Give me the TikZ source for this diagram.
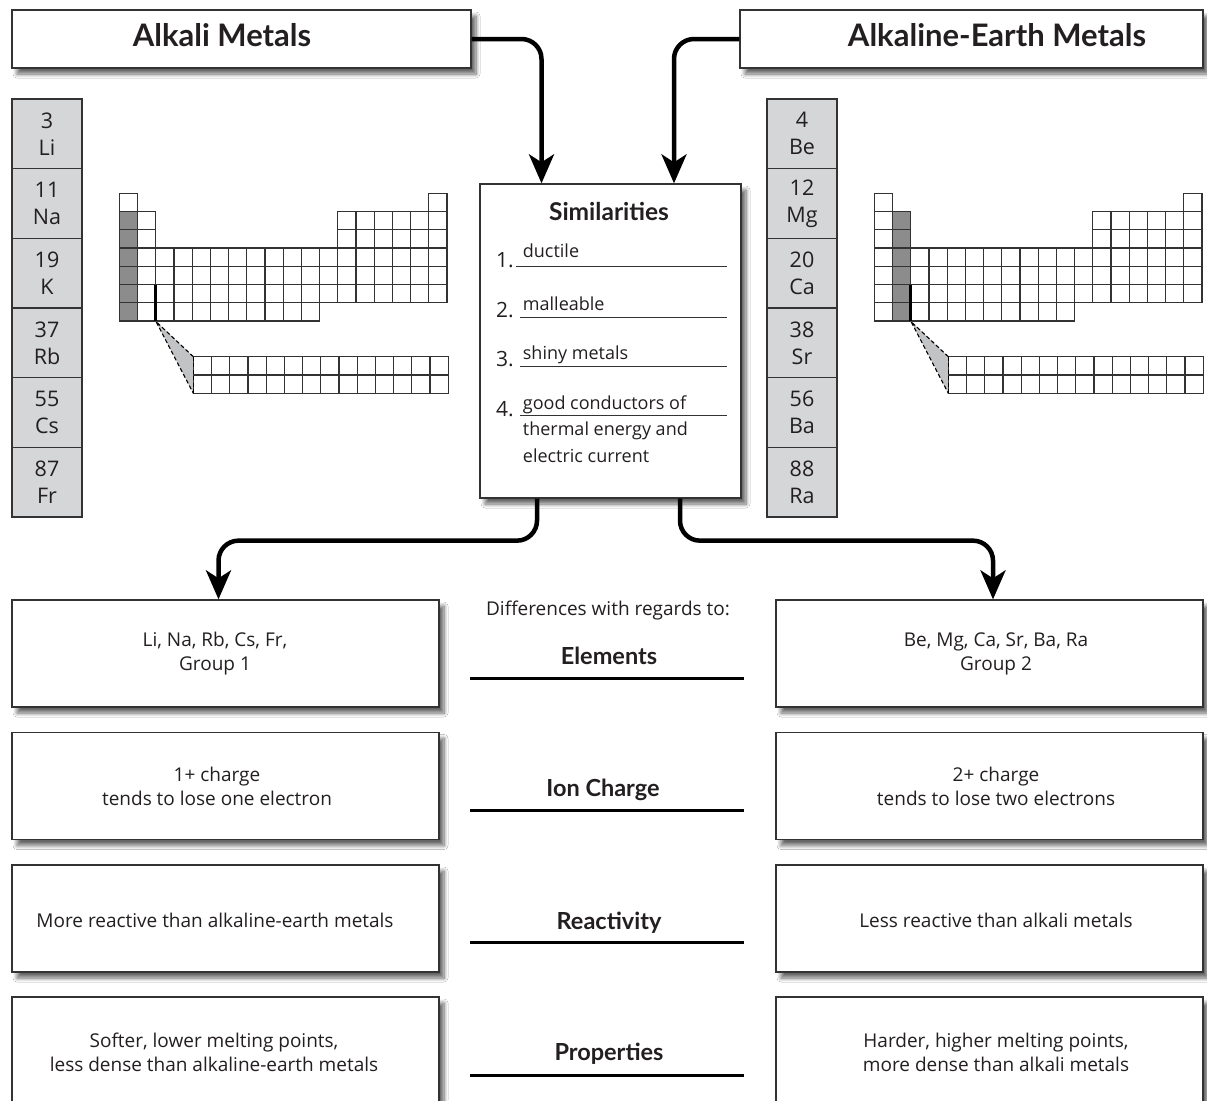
\documentclass[tikz,border=0pt]{standalone}
\usepackage{fontspec}
\setmainfont{Open Sans}
\newfontfamily\hfont{Lato}
\newfontfamily\cellfont{Open Sans}
\usetikzlibrary{arrows.meta,shadows.blur}

\definecolor{ink}{HTML}{231F20}
\definecolor{edge}{HTML}{333333}
\definecolor{cellgray}{HTML}{D5D6D8}
\definecolor{darkcell}{HTML}{8C8C8C}
\definecolor{trigray}{HTML}{C2C3C5}

\tikzset{
  box/.style={draw=edge, line width=1.3pt, fill=white, rectangle, inner sep=0pt,
    blur shadow={shadow xshift=5pt, shadow yshift=-6pt, shadow blur steps=8,
      shadow blur radius=4pt, shadow opacity=60}},
  cell/.style={draw=edge, line width=1.2pt, fill=cellgray, rectangle,
    minimum width=70pt, minimum height=69.67pt, inner sep=0pt, align=center,
    text=ink, font=\cellfont\fontsize{21.5}{27}\selectfont},
  boxtxt/.style={inner sep=0pt, align=center, text=ink, font=\fontsize{19}{24}\selectfont},
  head/.style={inner sep=0pt, text=ink, font=\hfont\bfseries\fontsize{31}{36}\selectfont},
  simhead/.style={inner sep=0pt, text=ink, font=\hfont\bfseries\fontsize{24.5}{30}\selectfont},
  midlabel/.style={inner sep=0pt, text=ink, font=\hfont\bfseries\fontsize{23.5}{28}\selectfont},
  plain/.style={inner sep=0pt, text=ink, font=\fontsize{19}{24}\selectfont},
  listtxt/.style={inner sep=0pt, text=ink, font=\fontsize{18}{26.5}\selectfont},
  listnum/.style={inner sep=0pt, text=ink, font=\fontsize{21}{24}\selectfont},
  rule/.style={draw=edge, line width=1.2pt},
  sepline/.style={draw=black, line width=3pt},
  pcell/.style={draw=edge, line width=1.2pt, fill=white},
  arr/.style={draw=black, line width=4.5pt, rounded corners=20pt,
    -{Stealth[length=29pt,width=25pt,inset=8pt]}},
}

\newcommand\ptabdraw[1]{%
  \foreach \c in {1,18}
    \draw[pcell] ({119.3+(\c-1)*18.2},193.3) rectangle ++(18.2,18.24);
  \foreach \r in {2,3}{
    \foreach \c in {1,2,13,14,15,16,17,18}
      \draw[pcell] ({119.3+(\c-1)*18.2},{193.3+(\r-1)*18.24}) rectangle ++(18.2,18.24);
  }
  \foreach \r in {4,5,6}{
    \foreach \c in {1,...,18}
      \draw[pcell] ({119.3+(\c-1)*18.2},{193.3+(\r-1)*18.24}) rectangle ++(18.2,18.24);
  }
  \foreach \c in {1,...,11}
    \draw[pcell] ({119.3+(\c-1)*18.2},{193.3+6*18.24}) rectangle ++(18.2,18.24);
  \foreach \r in {2,...,7}
    \draw[pcell, fill=darkcell] ({119.3+(#1-1)*18.2},{193.3+(\r-1)*18.24}) rectangle ++(18.2,18.24);
  \draw[line width=3pt, black] ({119.3+2*18.2},{193.3+5*18.24}) -- ++(0,{2*18.24});
  \fill[trigray] (156,321.5) -- (193.3,356.7) -- (193.3,393.3) -- cycle;
  \foreach \r in {0,1}{
    \foreach \c in {0,...,13}
      \draw[pcell] ({193.3+\c*18.2},{356.7+\r*18.3}) rectangle ++(18.2,18.3);
  }
  \draw[black, line width=1.1pt, dash pattern=on 4pt off 2.5pt] (193.3,356.7) -- (156,321.5) -- (193.3,393.3);
  \draw[black, line width=1.1pt, dash pattern=on 4pt off 2.5pt] (193.3,356.7) -- (193.3,393.3);
}

\begin{document}
\begin{tikzpicture}[x=1pt,y=-1pt]
\useasboundingbox (0,0) rectangle (1207,1100);
\fill[white] (0,0) rectangle (1207,1100);

% ---------- header boxes ----------
\node[box, minimum width=459pt, minimum height=58pt] (alk) at (241.5,39) {};
\node[head, anchor=base] (alkT) at (222,46.7) {Alkali Metals};
\node[box, minimum width=463pt, minimum height=58pt] (ae) at (971.5,39) {};
\node[head, anchor=base] (aeT) at (997,46.7) {Alkaline-Earth Metals};

% ---------- element columns ----------
\foreach \n/\s [count=\i] in {3/Li,11/Na,19/K,37/Rb,55/Cs,87/Fr}
  \node[cell] (alc\i) at (47,{99+69.67*(\i-0.5)}) {\n\\\s};
\foreach \n/\s [count=\i] in {4/Be,12/Mg,20/Ca,38/Sr,56/Ba,88/Ra}
  \node[cell] (aec\i) at (802,{99+69.67*(\i-0.5)}) {\n\\\s};

% ---------- mini periodic tables ----------
\ptabdraw{1}
\begin{scope}[shift={(755,0)}]
  \ptabdraw{2}
\end{scope}

% ---------- similarities ----------
\node[box, minimum width=261pt, minimum height=314pt] (sim) at (610.5,341) {};
\node[simhead, anchor=base] (simT) at (609,220) {Similarities};
\node[listnum, anchor=base west] (n1) at (496,267) {1.};
\node[listtxt, anchor=base west] (t1) at (522.7,257.7) {ductile};
\draw[rule] (515.7,266.7) -- (727,266.7);
\node[listnum, anchor=base west] (n2) at (496,317) {2.};
\node[listtxt, anchor=base west] (t2) at (522.7,310) {malleable};
\draw[rule] (520,317.3) -- (727,317.3);
\node[listnum, anchor=base west] (n3) at (496,366) {3.};
\node[listtxt, anchor=base west] (t3) at (522.7,359) {shiny metals};
\draw[rule] (520,366.7) -- (727,366.7);
\node[listnum, anchor=base west] (n4) at (496,416) {4.};
\node[listtxt, anchor=base west] (t4a) at (522.7,409) {good conductors of};
\draw[rule] (520,415.7) -- (727,415.7);
\node[listtxt, anchor=base west] (t4b) at (522.7,435.7) {thermal energy and};
\node[listtxt, anchor=base west] (t4c) at (522.7,462.3) {electric current};

% ---------- comparison boxes ----------
\node[box, minimum width=427pt, minimum height=107pt] (L1) at (225.5,653.5) {};
\node[box, minimum width=427pt, minimum height=107pt] (R1) at (989.5,653.5) {};
\node[box, minimum width=427pt, minimum height=107pt] (L2) at (225.5,786) {};
\node[box, minimum width=427pt, minimum height=107pt] (R2) at (989.5,786) {};
\node[box, minimum width=427pt, minimum height=107pt] (L3) at (225.5,918.5) {};
\node[box, minimum width=427pt, minimum height=107pt] (R3) at (989.5,918.5) {};
\node[box, minimum width=427pt, minimum height=110pt] (L4) at (225.5,1052) {};
\node[box, minimum width=427pt, minimum height=110pt] (R4) at (989.5,1052) {};

\node[boxtxt] (L1t) at (215,653.5) {Li, Na, Rb, Cs, Fr,\\Group 1};
\node[boxtxt] (R1t) at (996,653.5) {Be, Mg, Ca, Sr, Ba, Ra\\Group 2};
\node[boxtxt] (L2t) at (217,786.5) {1+ charge\\tends to lose one electron};
\node[boxtxt] (R2t) at (996,786.5) {2+ charge\\tends to lose two electrons};
\node[boxtxt] (L3t) at (215,920) {More reactive than alkaline-earth metals};
\node[boxtxt] (R3t) at (996,920) {Less reactive than alkali metals};
\node[boxtxt] (L4t) at (214,1052.5) {Softer, lower melting points,\\less dense than alkaline-earth metals};
\node[boxtxt] (R4t) at (996,1052.5) {Harder, higher melting points,\\more dense than alkali metals};

% ---------- middle labels ----------
\node[plain, anchor=base] (diff) at (608,615) {Differences with regards to:};
\node[midlabel, anchor=base] (m1) at (609,664) {Elements};
\draw[sepline] (470,678.3) -- (744,678.3);
\node[midlabel, anchor=base] (m2) at (603,796) {Ion Charge};
\draw[sepline] (470,810.6) -- (744,810.6);
\node[midlabel, anchor=base] (m3) at (609,929) {Reactivity};
\draw[sepline] (470,942.9) -- (744,942.9);
\node[midlabel, anchor=base] (m4) at (609,1060.5) {Properties};
\draw[sepline] (470,1075.2) -- (744,1075.2);

% ---------- arrows ----------
\draw[arr] (alk.east) -| ([xshift=-69pt]sim.north);
\draw[arr] (ae.west) -| ([xshift=63.5pt]sim.north);
\draw[arr] ([xshift=-73.5pt]sim.south) -- ++(0,42) -| ([xshift=-7pt]L1.north);
\draw[arr] ([xshift=69.5pt]sim.south) -- ++(0,42) -| ([xshift=3.5pt]R1.north);
\end{tikzpicture}
\end{document}
